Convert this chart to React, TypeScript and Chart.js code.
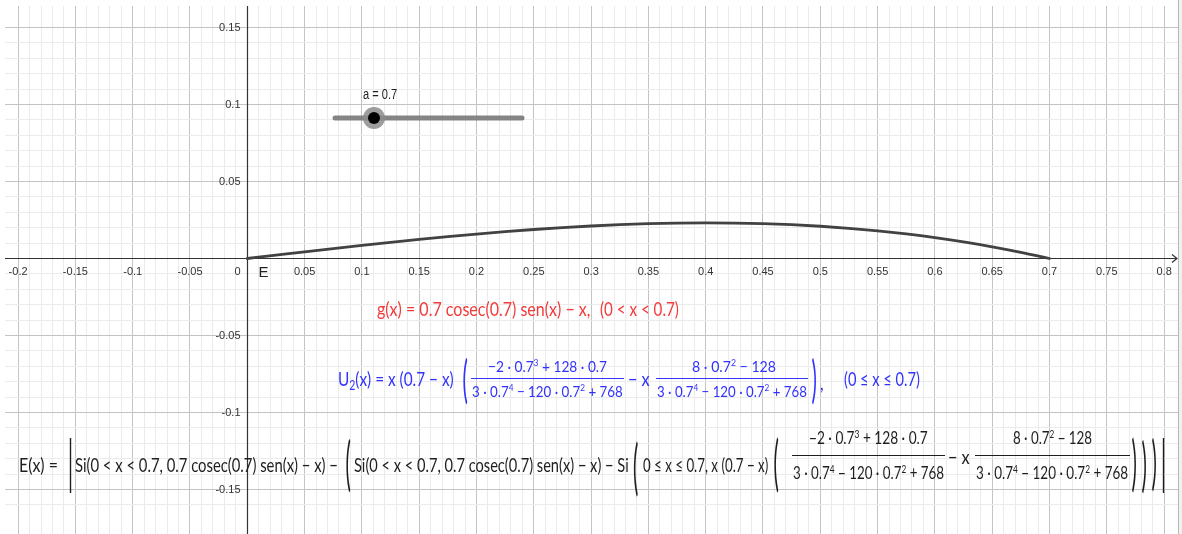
import React, { useEffect, useLayoutEffect, useRef, useState } from 'react';
import { Chart, registerables } from 'chart.js';

Chart.register(...registerables);

// ---- data ----
const curveX = [0, 0.025, 0.05, 0.075, 0.1, 0.125, 0.15, 0.175, 0.2, 0.225, 0.25, 0.275, 0.3, 0.325, 0.35, 0.375, 0.4, 0.425, 0.45, 0.475, 0.5, 0.525, 0.55, 0.575, 0.6, 0.625, 0.65, 0.675, 0.7];
const curveY = [0, 0.00216, 0.00431, 0.00642, 0.00848, 0.01047, 0.01238, 0.01418, 0.01587, 0.01742, 0.01883, 0.02006, 0.02111, 0.02196, 0.02259, 0.02299, 0.02314, 0.02302, 0.02263, 0.02194, 0.02094, 0.01961, 0.01795, 0.01593, 0.01354, 0.01076, 0.00759, 0.004, 0];
const xTickValues = [-0.2, -0.15, -0.1, -0.05, 0.05, 0.1, 0.15, 0.2, 0.25, 0.3, 0.35, 0.4, 0.45, 0.5, 0.55, 0.6, 0.65, 0.7, 0.75, 0.8];
const xTickLabels = ['-0.2', '-0.15', '-0.1', '-0.05', '0.05', '0.1', '0.15', '0.2', '0.25', '0.3', '0.35', '0.4', '0.45', '0.5', '0.55', '0.6', '0.65', '0.7', '0.75', '0.8'];
const yTickValues = [0.15, 0.1, 0.05, -0.05, -0.1, -0.15];
const yTickLabels = ['0.15', '0.1', '0.05', '-0.05', '-0.1', '-0.15'];
const originTickLabel = '0';
const xRange = [-0.21143, 0.81213];
const yRange = [-0.1789, 0.16396];
const originPointLabel = 'E';
const sliderName = 'a';
const sliderValue = 0.7;

const FONT = 'Lato, "Liberation Sans", sans-serif';
const RED = '#f43b3b';
const BLUE = '#3232ff';
const BLACK = '#1e1e1e';
const ROW = 20;
const FR_BLUE = 16;
const FR_BLACK = 17;

type FitProps = {
  l: number; r: number; cy?: number; top?: number; bottom?: number;
  size?: number; color?: string; font?: string; children?: React.ReactNode;
};

// Text fitted horizontally between l and r, vertically centred on cy.
// Delimiter mode (top/bottom given): stretched vertically only, centred between l and r.
function Fit({ l, r, cy, top, bottom, size = ROW, color = BLACK, font = FONT, children }: FitProps) {
  const ref = useRef<HTMLSpanElement>(null);
  const [s, setS] = useState<[number, number, number]>([1, 1, 0]);
  const isBox = top !== undefined && bottom !== undefined;
  useLayoutEffect(() => {
    const measure = () => {
      const el = ref.current;
      if (!el) return;
      const w = el.offsetWidth;
      const h = el.offsetHeight;
      if (isBox) {
        const sy = h > 0 ? ((bottom as number) - (top as number)) / h : 1;
        setS([1, sy, ((r - l) - w) / 2]);
      } else {
        setS([w > 0 ? (r - l) / w : 1, 1, 0]);
      }
    };
    measure();
    const f: any = (document as any).fonts;
    if (f && f.ready) f.ready.then(measure);
  }, [l, r, top, bottom]);
  const style: React.CSSProperties = {
    position: 'absolute',
    left: l + s[2],
    top: isBox ? top : cy,
    transform: isBox ? `scaleY(${s[1]})` : `translateY(-50%) scaleX(${s[0]})`,
    transformOrigin: isBox ? '0 0' : '0 50%',
    fontSize: size,
    lineHeight: 1,
    whiteSpace: 'nowrap',
    color,
    fontFamily: font,
  };
  return <span ref={ref} style={style}>{children}</span>;
}

const Sup = ({ children }: { children: React.ReactNode }) => (
  <span style={{ fontSize: '0.62em', position: 'relative', top: '-0.6em' }}>{children}</span>
);
const Sub = ({ children }: { children: React.ReactNode }) => (
  <span style={{ fontSize: '0.68em', position: 'relative', top: '0.3em' }}>{children}</span>
);
const Bar = ({ l, r, y, color }: { l: number; r: number; y: number; color: string }) => (
  <div style={{ position: 'absolute', left: l, top: y, width: r - l, height: 1, background: color }} />
);

const num1 = <>−2 · 0.7<Sup>3</Sup> + 128 · 0.7</>;
const den1 = <>3 · 0.7<Sup>4</Sup> − 120 · 0.7<Sup>2</Sup> + 768</>;
const num2 = <>8 · 0.7<Sup>2</Sup> − 128</>;

function Formulas() {
  return (
    <div style={{ position: 'absolute', left: 0, top: 0, width: 1182, height: 534, pointerEvents: 'none' }}>
      <Fit l={363} r={397} cy={94} size={14} color="#222" font={'"Liberation Sans", Arial, sans-serif'}>
        {`${sliderName} = ${sliderValue}`}
      </Fit>

      {/* red */}
      <Fit l={377} r={590} cy={308} color={RED}>g(x) = 0.7 cosec(0.7) sen(x) − x,</Fit>
      <Fit l={600} r={679} cy={308} color={RED}>(0 &lt; x &lt; 0.7)</Fit>

      {/* blue */}
      <Fit l={338} r={454} cy={378} color={BLUE}>U<Sub>2</Sub>(x) = x (0.7 − x)</Fit>
      <Fit l={461} r={469} top={352} bottom={402} color={BLUE}>(</Fit>
      <Fit l={488} r={607} cy={366} size={FR_BLUE} color={BLUE}>{num1}</Fit>
      <Bar l={471} r={624} y={378} color={BLUE} />
      <Fit l={472} r={623} cy={391} size={FR_BLUE} color={BLUE}>{den1}</Fit>
      <Fit l={628} r={650} cy={378} color={BLUE}>− x</Fit>
      <Fit l={692} r={776} cy={366} size={FR_BLUE} color={BLUE}>{num2}</Fit>
      <Bar l={656} r={808} y={378} color={BLUE} />
      <Fit l={657} r={807} cy={391} size={FR_BLUE} color={BLUE}>{den1}</Fit>
      <Fit l={810} r={818} top={352} bottom={402} color={BLUE}>)</Fit>
      <Fit l={820} r={824} cy={382} color={BLUE}>,</Fit>
      <Fit l={844} r={920} cy={378} color={BLUE}>(0 ≤ x ≤ 0.7)</Fit>

      {/* black */}
      <Fit l={19} r={58} cy={464}>E(x) =</Fit>
      <Fit l={67} r={74} top={431} bottom={489}>|</Fit>
      <Fit l={75} r={338} cy={464}>Si(0 &lt; x &lt; 0.7, 0.7 cosec(0.7) sen(x) − x) −</Fit>
      <Fit l={344} r={352} top={432} bottom={490}>(</Fit>
      <Fit l={354} r={629} cy={464}>Si(0 &lt; x &lt; 0.7, 0.7 cosec(0.7) sen(x) − x) − Si</Fit>
      <Fit l={631} r={640} top={434} bottom={494}>(</Fit>
      <Fit l={643} r={768} cy={464}>0 ≤ x ≤ 0.7, x (0.7 − x)</Fit>
      <Fit l={772} r={780} top={430} bottom={490}>(</Fit>
      <Fit l={809} r={928} cy={437} size={FR_BLACK}>{num1}</Fit>
      <Bar l={792} r={945} y={455} color={BLACK} />
      <Fit l={793} r={944} cy={472} size={FR_BLACK}>{den1}</Fit>
      <Fit l={948} r={970} cy={456}>− x</Fit>
      <Fit l={1013} r={1092} cy={437} size={FR_BLACK}>{num2}</Fit>
      <Bar l={975} r={1130} y={455} color={BLACK} />
      <Fit l={976} r={1128} cy={472} size={FR_BLACK}>{den1}</Fit>
      <Fit l={1130} r={1138} top={430} bottom={490}>)</Fit>
      <Fit l={1140} r={1148} top={432} bottom={491}>)</Fit>
      <Fit l={1150} r={1158} top={431} bottom={489}>)</Fit>
      <Fit l={1160} r={1167} top={431} bottom={489}>|</Fit>

      {/* right window border */}
      <div style={{ position: 'absolute', left: 1178, top: 0, width: 4, height: 534, boxSizing: 'border-box', borderLeft: '1px solid #b8b8b8', background: '#f0f0f0' }} />
    </div>
  );
}

function gridColor(v: number): string {
  const m = v / 0.05;
  if (Math.abs(m - Math.round(m)) < 1e-6) return Math.abs(v) < 1e-9 ? 'rgba(0,0,0,0)' : '#c4c4c4';
  const n = v / 0.01;
  if (Math.abs(n - Math.round(n)) < 1e-6) return '#ebebeb';
  return 'rgba(0,0,0,0)';
}

export default function App() {
  const canvasRef = useRef<HTMLCanvasElement>(null);

  useEffect(() => {
    const canvas = canvasRef.current;
    if (!canvas) return;
    const points = curveX.map((x, i) => ({ x, y: curveY[i] }));

    const ggbPlugin = {
      id: 'ggbAxes',
      beforeDatasetsDraw(chart: any) {
        const { ctx, chartArea: a, scales } = chart;
        const xs = scales.x;
        const ys = scales.y;
        const px0 = Math.round(xs.getPixelForValue(0)) + 0.5;
        const py0 = Math.round(ys.getPixelForValue(0)) + 0.5;
        ctx.save();
        ctx.strokeStyle = '#333';
        ctx.lineWidth = 1.2;
        ctx.beginPath();
        ctx.moveTo(a.left, py0);
        ctx.lineTo(a.right - 1, py0);
        ctx.moveTo(px0, a.top);
        ctx.lineTo(px0, a.bottom);
        ctx.stroke();
        ctx.beginPath();
        ctx.moveTo(a.right - 6, py0 - 4);
        ctx.lineTo(a.right - 1, py0);
        ctx.lineTo(a.right - 6, py0 + 4);
        ctx.stroke();

        ctx.fillStyle = '#333';
        ctx.font = '11px "Liberation Sans", Arial, sans-serif';
        ctx.textBaseline = 'middle';
        ctx.textAlign = 'center';
        xTickValues.forEach((v, i) => ctx.fillText(xTickLabels[i], xs.getPixelForValue(v), py0 + 13.5));
        ctx.textAlign = 'right';
        ctx.fillText(originTickLabel, px0 - 7, py0 + 13.5);
        yTickValues.forEach((v, i) => ctx.fillText(yTickLabels[i], px0 - 7, ys.getPixelForValue(v)));
        ctx.textAlign = 'left';
        ctx.fillStyle = '#222';
        ctx.font = '15px "Liberation Sans", Arial, sans-serif';
        ctx.fillText(originPointLabel, px0 + 11, py0 + 14);
        ctx.restore();
      },
      afterDatasetsDraw(chart: any) {
        const { ctx } = chart;
        ctx.save();
        ctx.lineCap = 'round';
        ctx.strokeStyle = 'rgba(120,120,120,0.9)';
        ctx.lineWidth = 5;
        ctx.beginPath();
        ctx.moveTo(335, 118);
        ctx.lineTo(522, 118);
        ctx.stroke();
        ctx.fillStyle = 'rgba(140,140,140,0.85)';
        ctx.beginPath();
        ctx.arc(374, 118, 11, 0, Math.PI * 2);
        ctx.fill();
        ctx.fillStyle = '#000';
        ctx.beginPath();
        ctx.arc(374, 118, 6, 0, Math.PI * 2);
        ctx.fill();
        ctx.restore();
      },
    };

    const chart = new Chart(canvas, {
      type: 'scatter',
      data: {
        datasets: [
          {
            data: points,
            showLine: true,
            borderColor: '#424242',
            borderWidth: 2.8,
            pointRadius: 0,
            pointHoverRadius: 0,
            cubicInterpolationMode: 'monotone',
            borderCapStyle: 'round',
            borderJoinStyle: 'round',
          } as any,
        ],
      },
      options: {
        responsive: false,
        animation: false,
        devicePixelRatio: 1,
        events: [],
        layout: { padding: { left: 5, top: 6, right: 4, bottom: 0 } },
        plugins: { legend: { display: false }, tooltip: { enabled: false }, title: { display: false } },
        scales: {
          x: {
            type: 'linear',
            min: xRange[0],
            max: xRange[1],
            border: { display: false },
            ticks: { display: false, stepSize: 0.01 },
            grid: { drawTicks: false, color: (c: any) => gridColor(c.tick.value), lineWidth: 1 },
          },
          y: {
            type: 'linear',
            min: yRange[0],
            max: yRange[1],
            border: { display: false },
            ticks: { display: false, stepSize: 0.01 },
            grid: { drawTicks: false, color: (c: any) => gridColor(c.tick.value), lineWidth: 1 },
          },
        },
      },
      plugins: [ggbPlugin],
    });
    return () => chart.destroy();
  }, []);

  return (
    <div style={{ position: 'fixed', left: 0, top: 0, width: 1182, height: 534, background: '#fff', overflow: 'hidden' }}>
      <canvas ref={canvasRef} width={1182} height={534} style={{ display: 'block', width: 1182, height: 534 }} />
      <Formulas />
    </div>
  );
}
